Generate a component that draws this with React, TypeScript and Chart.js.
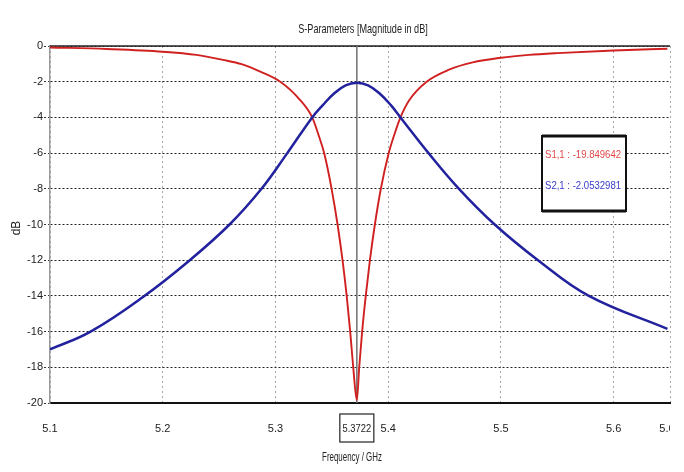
import React, { useEffect, useRef } from "react";
import { Chart, registerables } from "chart.js";

Chart.register(...registerables);

// ---- data ----
const s11Freq = [5.1, 5.15, 5.2, 5.23, 5.2534, 5.27, 5.2829, 5.3043, 5.3215, 5.3326, 5.3383, 5.3432, 5.3498, 5.3551, 5.3595, 5.3632, 5.3663, 5.369, 5.3722, 5.3743, 5.3769, 5.3801, 5.3838, 5.3882, 5.3935, 5.4005, 5.4053, 5.4109, 5.4191, 5.4341, 5.4535, 5.475, 5.5, 5.525, 5.55, 5.6, 5.6477];
const s11Db = [-0.08, -0.17, -0.32, -0.5, -0.78, -1.02, -1.34, -2.0, -3.0, -4.0, -5.0, -6.0, -8.0, -10.0, -12.0, -14.0, -16.0, -18.0, -19.849642, -18.0, -16.0, -14.0, -12.0, -10.0, -8.0, -6.0, -5.0, -4.0, -3.0, -2.0, -1.34, -0.92, -0.66, -0.5, -0.4, -0.25, -0.15];

const s21Freq = [5.1, 5.136, 5.1825, 5.224, 5.2593, 5.2876, 5.3105, 5.3326, 5.3422, 5.3522, 5.3622, 5.3722, 5.3822, 5.3922, 5.4022, 5.4109, 5.4358, 5.4628, 5.4945, 5.5329, 5.578, 5.6477];
const s21Db = [-17.0, -16.0, -14.06, -12.0, -10.0, -8.0, -6.0, -4.0, -3.3, -2.65, -2.2, -2.0532981, -2.2, -2.65, -3.3, -4.0, -6.0, -8.0, -10.0, -12.0, -14.0, -15.85];

const xTickValues = [5.1, 5.2, 5.3, 5.4, 5.5, 5.6, 5.65];
const xTickLabels = ["5.1", "5.2", "5.3", "5.4", "5.5", "5.6", "5.65"];
const yTickValues = [0, -2, -4, -6, -8, -10, -12, -14, -16, -18, -20];
const yTickLabels = ["0", "-2", "-4", "-6", "-8", "-10", "-12", "-14", "-16", "-18", "-20"];

const markerFreq = 5.3722;
const markerLabel = "5.3722";
const legendLabels = ["S1,1 : -19.849642", "S2,1 : -2.0532981"];
const titleText = "S-Parameters [Magnitude in dB]";
const xTitle = "Frequency / GHz";
const yTitle = "dB";

const FONT = "'Liberation Sans', Arial, sans-serif";
const RED = "#d02020";
const BLUE = "#22229e";

function squeezedText(ctx: any, text: string, x: number, y: number, sx: number, align: CanvasTextAlign) {
  ctx.save();
  ctx.translate(x, y);
  ctx.scale(sx, 1);
  ctx.textAlign = align;
  ctx.fillText(text, 0, 0);
  ctx.restore();
}

const overlay = {
  id: "overlay",
  beforeDatasetsDraw(chart: any) {
    const { ctx, chartArea, scales } = chart;
    const x = scales.x;
    ctx.save();
    ctx.strokeStyle = "#222";
    ctx.lineWidth = 1.5;
    ctx.beginPath();
    ctx.moveTo(chartArea.left, chartArea.top);
    ctx.lineTo(chartArea.right, chartArea.top);
    ctx.stroke();
    const mx = x.getPixelForValue(markerFreq);
    ctx.strokeStyle = "#707070";
    ctx.lineWidth = 1.5;
    ctx.beginPath();
    ctx.moveTo(mx, chartArea.top);
    ctx.lineTo(mx, chartArea.bottom);
    ctx.stroke();
    ctx.restore();
  },
  afterDraw(chart: any) {
    const { ctx, chartArea, scales } = chart;
    const x = scales.x;
    ctx.save();
    // right edge is cut off in the reference
    ctx.fillStyle = "#fff";
    ctx.fillRect(chartArea.right, 405, 40, 67);

    ctx.fillStyle = "#222";
    ctx.textBaseline = "middle";
    ctx.font = `13px ${FONT}`;
    squeezedText(ctx, titleText, 363, 29, 0.7, "center");
    ctx.font = `12px ${FONT}`;
    squeezedText(ctx, xTitle, 352, 458, 0.66, "center");
    ctx.save();
    ctx.translate(17, 228);
    ctx.rotate(-Math.PI / 2);
    ctx.font = `12px ${FONT}`;
    ctx.textAlign = "center";
    ctx.fillText(yTitle, 0, 0);
    ctx.restore();

    // marker label box
    const mx = x.getPixelForValue(markerFreq);
    ctx.strokeStyle = "#222";
    ctx.lineWidth = 1.2;
    ctx.fillStyle = "#fff";
    ctx.fillRect(mx - 17, 414, 34, 28);
    ctx.strokeRect(mx - 17, 414, 34, 28);
    ctx.fillStyle = "#222";
    ctx.font = `11px ${FONT}`;
    squeezedText(ctx, markerLabel, mx, 429, 0.85, "center");

    // legend box
    const bx = 542, by = 136, bw = 84, bh = 75;
    ctx.fillStyle = "#fff";
    ctx.fillRect(bx, by, bw, bh);
    ctx.strokeStyle = "#111";
    ctx.lineWidth = 2;
    ctx.strokeRect(bx, by, bw, bh);
    ctx.lineWidth = 3;
    ctx.beginPath();
    ctx.moveTo(bx, by); ctx.lineTo(bx + bw, by);
    ctx.moveTo(bx, by + bh); ctx.lineTo(bx + bw, by + bh);
    ctx.stroke();
    ctx.font = `11px ${FONT}`;
    ctx.fillStyle = "#e04848";
    squeezedText(ctx, legendLabels[0], bx + 3, 155, 0.87, "left");
    ctx.fillStyle = "#3a3ac8";
    squeezedText(ctx, legendLabels[1], bx + 3, 186, 0.87, "left");
    ctx.restore();
  },
};

export default function App() {
  const ref = useRef<HTMLCanvasElement>(null);
  useEffect(() => {
    if (!ref.current) return;
    const chart = new Chart(ref.current, {
      type: "line",
      data: {
        datasets: [
          {
            label: "S2,1",
            data: s21Freq.map((f, i) => ({ x: f, y: s21Db[i] })),
            borderColor: BLUE,
            borderWidth: 2.5,
            pointRadius: 0,
            tension: 0.4,
          },
          {
            label: "S1,1",
            data: s11Freq.map((f, i) => ({ x: f, y: s11Db[i] })),
            borderColor: RED,
            borderWidth: 1.9,
            pointRadius: 0,
            cubicInterpolationMode: "monotone",
          },
        ],
      },
      options: {
        responsive: false,
        animation: false,
        devicePixelRatio: 1,
        layout: { padding: { top: 46, right: 14, left: 0, bottom: 0 } },
        plugins: { legend: { display: false }, tooltip: { enabled: false }, title: { display: false } },
        scales: {
          x: {
            type: "linear",
            min: 5.1,
            max: 5.65,
            afterFit: (s: any) => { s.height = 69; s.paddingLeft = 0; s.paddingRight = 0; },
            afterBuildTicks: (s: any) => { s.ticks = xTickValues.map((v) => ({ value: v })); },
            ticks: {
              autoSkip: false,
              maxRotation: 0,
              padding: 19,
              color: "#222",
              font: { family: FONT, size: 11 },
              callback: (v: any) => {
                const i = xTickValues.findIndex((t) => Math.abs(t - Number(v)) < 1e-6);
                return i >= 0 ? xTickLabels[i] : "";
              },
            },
            grid: { color: "#a8a8a8", lineWidth: 1, drawTicks: false, tickLength: 0 },
            border: { display: true, color: "#111", width: 2, dash: [2, 3] },
          },
          y: {
            type: "linear",
            min: -20,
            max: 0,
            afterFit: (s: any) => { s.width = 50; s.paddingTop = 0; s.paddingBottom = 0; },
            afterBuildTicks: (s: any) => { s.ticks = yTickValues.map((v) => ({ value: v })); },
            ticks: {
              autoSkip: false,
              padding: 1,
              color: "#222",
              font: { family: FONT, size: 11 },
              callback: (v: any) => {
                const i = yTickValues.findIndex((t) => Math.abs(t - Number(v)) < 1e-6);
                return i >= 0 ? yTickLabels[i] : "";
              },
            },
            grid: { color: "#222", lineWidth: 1, tickLength: 6, tickColor: "#333", tickBorderDash: [2, 2] },
            border: { display: true, color: "#9a9a9a", width: 1.5, dash: [2, 2] },
          },
        },
      },
      plugins: [overlay],
    });
    return () => chart.destroy();
  }, []);
  return (
    <div style={{ position: "fixed", left: 0, top: 0, width: 684, height: 472, background: "#fff" }}>
      <canvas ref={ref} width={684} height={472} style={{ display: "block" }} />
    </div>
  );
}
